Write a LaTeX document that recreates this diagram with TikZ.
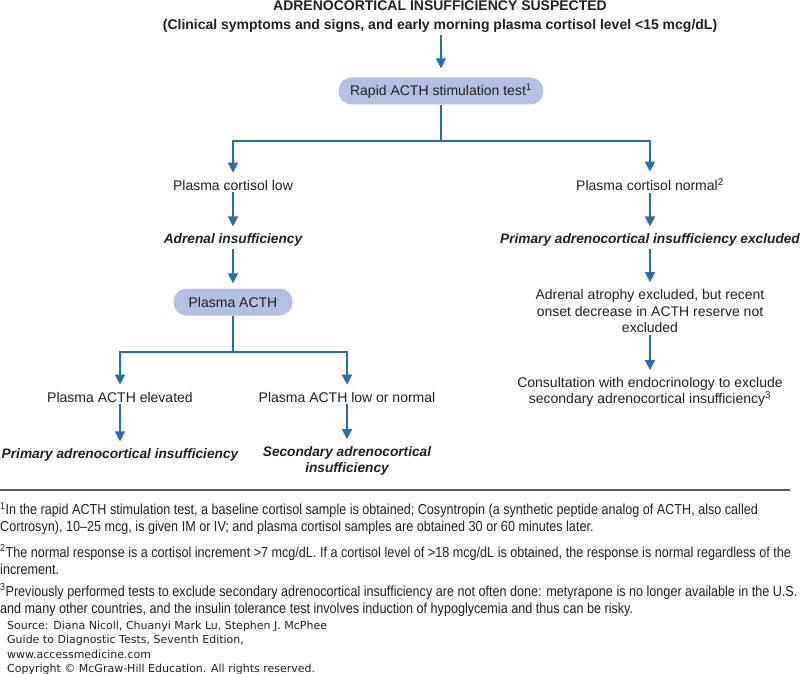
\documentclass[tikz,border=0pt]{standalone}
\usepackage{fontspec}
\setmainfont{Liberation Sans}
\newfontfamily\notefont[FakeStretch=0.87]{Liberation Sans}
\newfontfamily\srcfont{DejaVu Sans}
\usetikzlibrary{arrows.meta,positioning}
\definecolor{flowblue}{RGB}{35,110,180}
\definecolor{pillfill}{RGB}{180,192,226}
\definecolor{inkgray}{RGB}{35,31,32}
\definecolor{rulegray}{RGB}{90,90,90}

\begin{document}
\begin{tikzpicture}[x=1pt,y=-1pt,
  txt/.style={text=inkgray,font=\fontsize{14}{16.5}\selectfont,align=center,inner sep=2pt},
  res/.style={txt,font=\fontsize{13.7}{16.5}\selectfont\bfseries\itshape},
  head/.style={txt,font=\fontsize{14}{19}\selectfont\bfseries},
  pill/.style={txt,fill=pillfill,rounded corners=13pt,minimum height=27pt},
  link/.style={flowblue,line width=1.4pt},
  flow/.style={link,-{Triangle[width=10pt,length=10pt]},shorten >=5pt},
  note/.style={text=inkgray,font=\notefont\fontsize{14.5}{17}\selectfont,anchor=west,align=left,inner sep=0pt},
  src/.style={text=inkgray,font=\srcfont\fontsize{11}{14.5}\selectfont,anchor=west,align=left,inner sep=0pt}]

\useasboundingbox (0,0) rectangle (801,674);

% top of the chart
\node[head] (title) at (440,17) {ADRENOCORTICAL INSUFFICIENCY SUSPECTED\\(Clinical symptoms and signs, and early morning plasma cortisol level <15 mcg/dL)};
\node[pill,minimum width=205pt] (test) at (441,91) {Rapid ACTH stimulation test\textsuperscript{1}};
\draw[flow,shorten >=9pt] (test.north |- title.south) -- (test.north);

% first split
\coordinate (fork1) at (441,141);
\node[txt] (low) at (233,185) {Plasma cortisol low};
\node[txt] (norm) at (650,185) {Plasma cortisol normal\textsuperscript{2}};
\node[res] (adr) at (233,240) {Adrenal insufficiency};
\node[res] (excl) at (650,240) {Primary adrenocortical insufficiency excluded};
\draw[link] (test.south) -- (fork1);
\draw[flow] (fork1) -| (low.north);
\draw[flow] (fork1) -| (norm.north -| excl.north);
\draw[flow] (low.south) -- (adr.north);
\draw[flow] (norm.south -| excl.north) -- (excl.north);

% left branch
\node[pill,minimum width=119pt] (pacth) at (233,302) {Plasma ACTH};
\draw[flow] (adr.south) -- (pacth.north);
\coordinate (fork2) at (233,352);
\node[txt] (elev) at (120,397) {Plasma ACTH elevated};
\node[txt] (lown) at (347,397) {Plasma ACTH low or normal};
\node[res] (prim) at (120,455) {Primary adrenocortical insufficiency};
\node[res] (sec) at (347,461) {Secondary adrenocortical\\insufficiency};
\draw[link] (pacth.south) -- (fork2);
\draw[flow] (fork2) -| (elev.north);
\draw[flow] (fork2) -| (lown.north);
\draw[flow] (elev.south) -- (prim.north);
\draw[flow] (lown.south) -- (sec.north);

% right branch
\node[txt] (atro) at (650,311) {Adrenal atrophy excluded, but recent\\onset decrease in ACTH reserve not\\excluded};
\node[txt] (cons) at (650,392) {Consultation with endocrinology to exclude\\secondary adrenocortical insufficiency\textsuperscript{3}};
\draw[flow] (excl.south -| atro.north) -- (atro.north);
\draw[flow] (atro.south) -- (cons.north);

% footnotes
\draw[rulegray,line width=1.5pt] (0,490) -- (790,490);
\node[note] (fn1) at (0,518.5) {\textsuperscript{1}In the rapid ACTH stimulation test, a baseline cortisol sample is obtained; Cosyntropin (a synthetic peptide analog of ACTH, also called\\Cortrosyn), 10–25 mcg, is given IM or IV; and plasma cortisol samples are obtained 30 or 60 minutes later.};
\node[note] (fn2) at (0,559.5) {\textsuperscript{2}The normal response is a cortisol increment >7 mcg/dL. If a cortisol level of >18 mcg/dL is obtained, the response is normal regardless of the\\increment.};
\node[note] (fn3) at (0,600) {\textsuperscript{3}Previously performed tests to exclude secondary adrenocortical insufficiency are not often done: metyrapone is no longer available in the U.S.\\and many other countries, and the insulin tolerance test involves induction of hypoglycemia and thus can be risky.};
\node[src] (source) at (7,648) {Source: Diana Nicoll, Chuanyi Mark Lu, Stephen J. McPhee\\Guide to Diagnostic Tests, Seventh Edition,\\www.accessmedicine.com\\Copyright \textcopyright{} McGraw-Hill Education. All rights reserved.};

\end{tikzpicture}
\end{document}
